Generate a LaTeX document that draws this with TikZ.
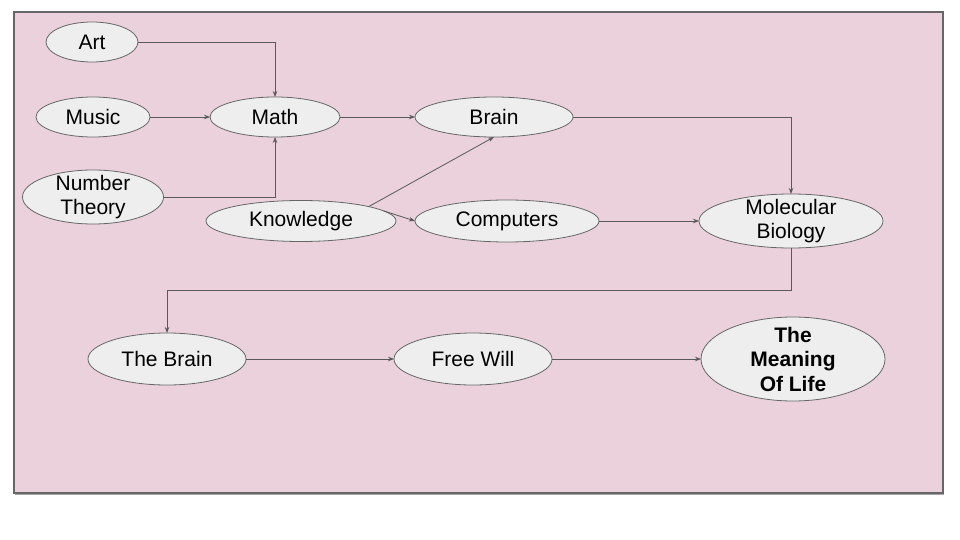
\documentclass[tikz,border=0pt]{standalone}
\usepackage{fontspec}
\setmainfont{Liberation Sans}
\usepackage{xcolor}
\usetikzlibrary{shapes.geometric,arrows.meta}
\definecolor{slidebg}{HTML}{EAD1DC}
\definecolor{bubble}{HTML}{EEEEEE}
\definecolor{wire}{HTML}{595959}
\definecolor{rim}{HTML}{666666}

\begin{document}
\begin{tikzpicture}[x=1pt, y=-1pt,
  topic/.style={ellipse, draw=rim, fill=bubble, line width=0.8pt, inner sep=0pt, outer sep=0pt,
    align=center, font=\fontsize{21}{24.5}\selectfont},
  link/.style={draw=wire, line width=0.8pt, -{Stealth[length=6pt,width=4.5pt]}}]

  \useasboundingbox (0,0) rectangle (960,540);

  %% slide frame
  \fill[black!35] (15,14) rectangle (944,495);
  \draw[rim, line width=1.5pt, fill=slidebg] (14,12) rectangle (943,493);

  %% top block
  \node[topic, minimum width=92pt, minimum height=40pt] (art) at (92,42) {Art};
  \node[topic, minimum width=114pt, minimum height=40pt] (music) at (93,117) {Music};
  \node[topic, minimum width=130pt, minimum height=40pt] (math) at (275,117) {Math};
  \node[topic, minimum width=158pt, minimum height=40pt] (brain) at (494,117) {Brain};
  \node[topic, minimum width=141pt, minimum height=54pt, inner ysep=-4pt] (numth) at (93,197) {Number\\Theory};
  \node[topic, minimum width=190pt, minimum height=41pt] (know) at (301,221) {Knowledge};
  \node[topic, minimum width=184pt, minimum height=42pt] (comp) at (507,221) {Computers};
  \node[topic, minimum width=184pt, minimum height=54pt, inner ysep=-4pt] (molbio) at (791,221) {Molecular\\Biology};

  %% bottom row
  \node[topic, minimum width=158pt, minimum height=52pt] (thebrain) at (167,359) {The Brain};
  \node[topic, minimum width=158pt, minimum height=52pt] (freewill) at (473,359) {Free Will};
  \node[topic, minimum width=184pt, minimum height=84pt, inner ysep=-5pt, font=\fontsize{21}{24.5}\selectfont\bfseries] (meaning) at (793,359) {The\\Meaning\\Of Life};

  %% links
  \draw[link] (art.east) -| (math.north);
  \draw[link] (music.east) -- (math.west);
  \draw[link] (numth.east) -| (math.south);
  \draw[link] (math.east) -- (brain.west);
  \draw[link] (know.12) -- (brain.south);
  \draw[link] (know.7) -- (comp.west);
  \draw[link] (brain.east) -| (molbio.north);
  \draw[link] (comp.east) -- (molbio.west);
  \draw[link] (molbio.south) -- ++(0,42) -| (thebrain.north);
  \draw[link] (thebrain.east) -- (freewill.west);
  \draw[link] (freewill.east) -- (meaning.west);

\end{tikzpicture}
\end{document}
